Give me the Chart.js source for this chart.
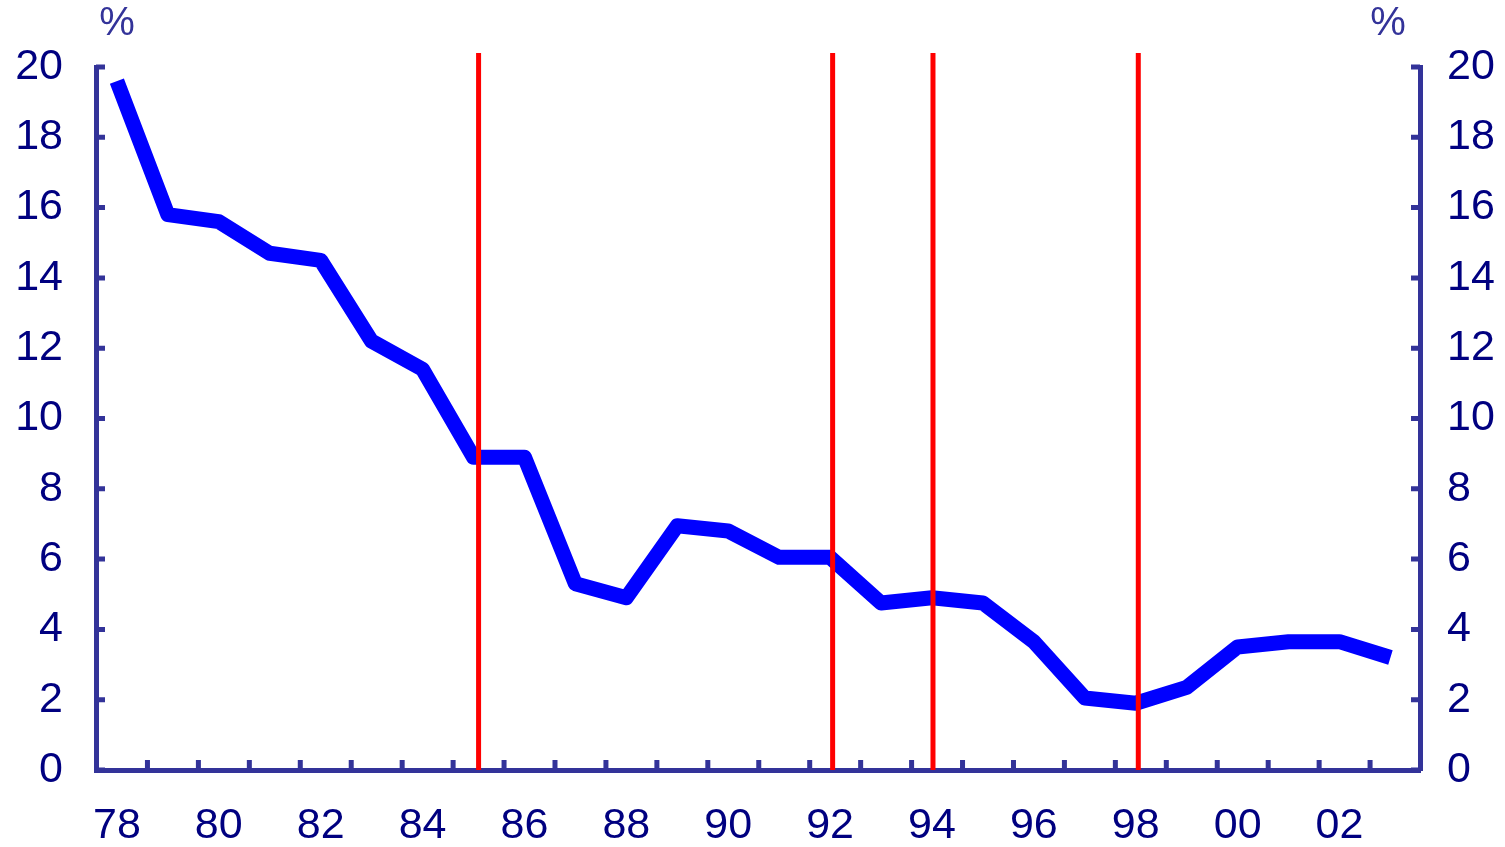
<!DOCTYPE html>
<html>
<head>
<meta charset="utf-8">
<script src="https://cdn.jsdelivr.net/npm/chart.js@4/dist/chart.umd.min.js"></script>
<style>
  html, body { margin: 0; padding: 0; background: #ffffff; }
  #wrap { width: 1505px; height: 847px; }
</style>
</head>
<body>
<div id="wrap"><canvas id="rateChart" width="1505" height="847"></canvas></div>
<script>
// --- data ---
const years = [1978, 1979, 1980, 1981, 1982, 1983, 1984, 1985, 1986, 1987, 1988, 1989, 1990,
               1991, 1992, 1993, 1994, 1995, 1996, 1997, 1998, 1999, 2000, 2001, 2002, 2003];
const rates = [19.6, 15.8, 15.6, 14.7, 14.5, 12.2, 11.4, 8.9, 8.9, 5.3, 4.9, 6.95, 6.8,
               6.05, 6.05, 4.75, 4.9, 4.75, 3.65, 2.05, 1.9, 2.35, 3.5, 3.65, 3.65, 3.2];
const labelYears = [1978, 1980, 1982, 1984, 1986, 1988, 1990, 1992, 1994, 1996, 1998, 2000, 2002];
const yTicks = [0, 2, 4, 6, 8, 10, 12, 14, 16, 18, 20];
const eventYears = [1985.1, 1992.05, 1994.02, 1998.05];

const axisColor = '#333399';
const labelColor = '#000080';
const font = { family: '"Liberation Sans", Arial, sans-serif', size: 43 };

// small inward tick marks sit between the year labels
const xTickMarks = years.slice(0, 25).map(y => y + 0.6);

const decor = {
    id: 'decor',
    afterDatasetsDraw(chart) {
        const { ctx, chartArea: a, scales: { x, y } } = chart;
        ctx.save();
        // inward tick marks
        ctx.strokeStyle = axisColor;
        ctx.lineWidth = 5;
        ctx.beginPath();
        xTickMarks.forEach(v => {
            const px = x.getPixelForValue(v);
            ctx.moveTo(px, a.bottom);
            ctx.lineTo(px, a.bottom - 10);
        });
        yTicks.forEach(v => {
            const py = y.getPixelForValue(v);
            ctx.moveTo(a.left, py);
            ctx.lineTo(a.left + 9, py);
            ctx.moveTo(a.right, py);
            ctx.lineTo(a.right - 9, py);
        });
        ctx.stroke();

        // red vertical markers
        ctx.strokeStyle = '#ff0000';
        ctx.lineWidth = 5;
        ctx.beginPath();
        eventYears.forEach(v => {
            const px = x.getPixelForValue(v);
            ctx.moveTo(px, a.top - 14);
            ctx.lineTo(px, a.bottom);
        });
        ctx.stroke();

        // unit labels
        ctx.fillStyle = axisColor;
        ctx.font = '40px "Liberation Sans", Arial, sans-serif';
        ctx.textAlign = 'center';
        ctx.textBaseline = 'alphabetic';
        ctx.fillText('%', 117, 35);
        ctx.fillText('%', 1388, 35);
        ctx.restore();
    }
};

new Chart(document.getElementById('rateChart'), {
    type: 'line',
    data: {
        datasets: [{
            data: years.map((yr, i) => ({ x: yr, y: rates[i] })),
            borderColor: '#0000ff',
            borderWidth: 15,
            borderJoinStyle: 'round',
            borderCapStyle: 'butt',
            pointRadius: 0,
            tension: 0,
            fill: false
        }]
    },
    options: {
        responsive: false,
        animation: false,
        events: [],
        layout: { padding: { top: 67, left: 0, right: 0, bottom: 0 } },
        plugins: { legend: { display: false }, tooltip: { enabled: false } },
        scales: {
            x: {
                type: 'linear',
                position: 'bottom',
                min: 1977.59,
                max: 2003.58,
                afterFit: s => { s.height = 77; },
                afterBuildTicks: s => { s.ticks = labelYears.map(v => ({ value: v })); },
                grid: { display: false, drawTicks: false },
                border: { display: true, color: axisColor, width: 5 },
                ticks: {
                    font: font,
                    color: labelColor,
                    padding: 30,
                    maxRotation: 0,
                    autoSkip: false,
                    callback: v => String(v % 100).padStart(2, '0')
                }
            },
            y: {
                position: 'left',
                min: 0,
                max: 20,
                afterFit: s => { s.width = 96; },
                grid: { display: false, drawTicks: false },
                border: { display: true, color: axisColor, width: 5 },
                ticks: { stepSize: 2, font: font, color: labelColor, padding: 33 }
            },
            y2: {
                position: 'right',
                min: 0,
                max: 20,
                afterFit: s => { s.width = 85; },
                grid: { display: false, drawTicks: false },
                border: { display: true, color: axisColor, width: 5 },
                ticks: { stepSize: 2, font: font, color: labelColor, padding: 27 }
            }
        }
    },
    plugins: [decor]
});
</script>
</body>
</html>
